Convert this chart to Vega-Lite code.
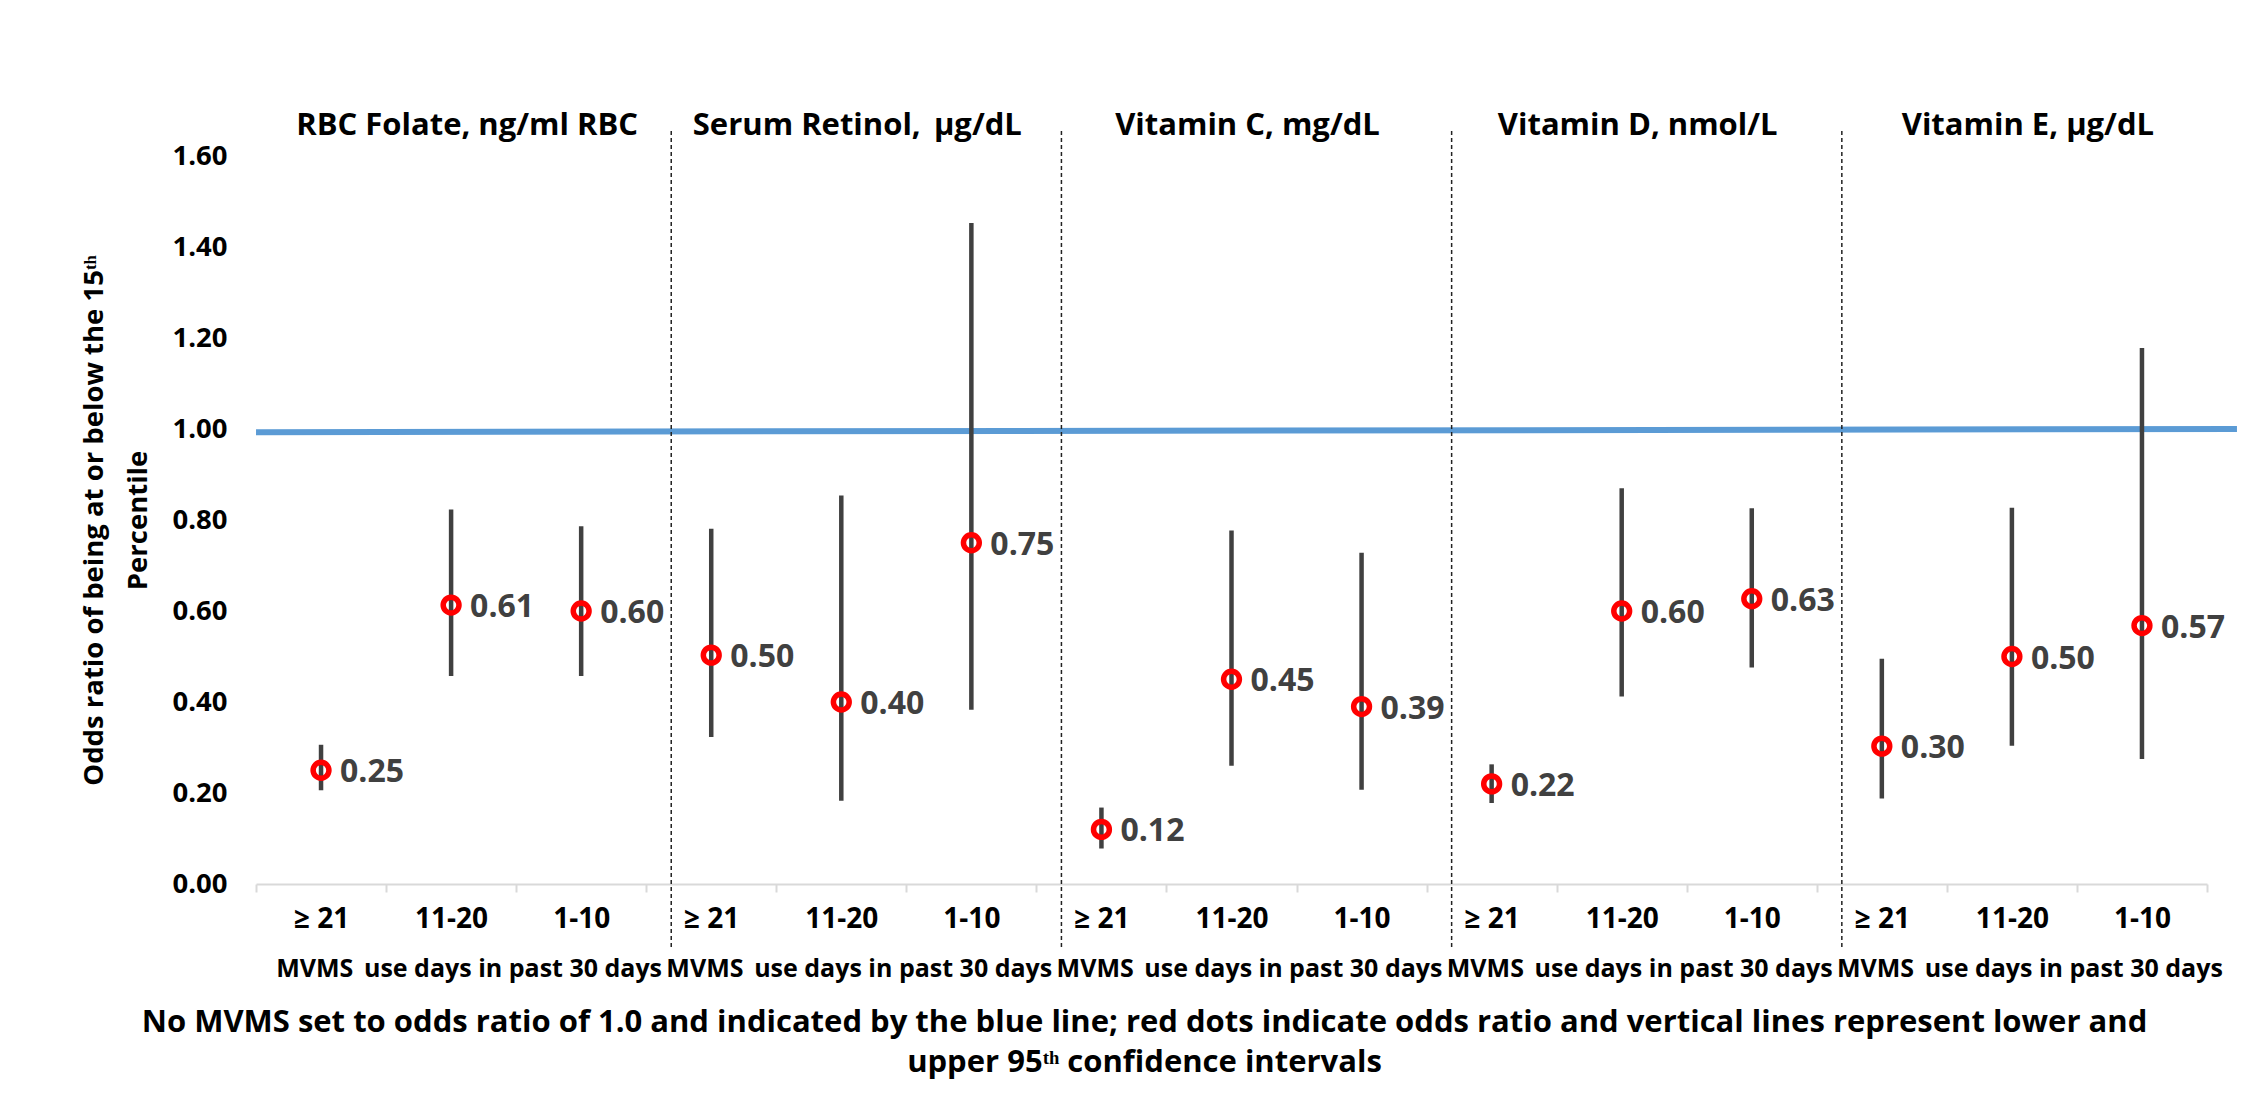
{
  "$schema": "https://vega.github.io/schema/vega-lite/v6.json",
  "width": 1951,
  "height": 728,
  "autosize": {"type": "none"},
  "padding": {"left": 256, "top": 156, "right": 53, "bottom": 221},
  "background": "white",
  "config": {"view": {"stroke": null}, "font": "Open Sans"},
  "title": {
    "text": ["No MVMS set to odds ratio of 1.0 and indicated by the blue line; red dots indicate odds ratio and vertical lines represent lower and", "upper 95ᵗʰ confidence intervals"],
    "orient": "bottom",
    "anchor": "middle",
    "frame": "bounds",
    "font": "Open Sans",
    "fontSize": 31,
    "fontWeight": "bold",
    "color": "black",
    "offset": 26,
    "dx": -16,
    "lineHeight": 40
  },
  "data": {
    "values": [
      {"panel": "RBC Folate, ng/ml RBC", "days": "≥ 21", "key": "P1|≥ 21", "or": 0.25, "lo": 0.206, "hi": 0.306},
      {"panel": "RBC Folate, ng/ml RBC", "days": "11-20", "key": "P1|11-20", "or": 0.613, "lo": 0.457, "hi": 0.823},
      {"panel": "RBC Folate, ng/ml RBC", "days": "1-10", "key": "P1|1-10", "or": 0.60, "lo": 0.457, "hi": 0.786},
      {"panel": "Serum Retinol,\u2009 µg/dL", "days": "≥ 21", "key": "P2|≥ 21", "or": 0.503, "lo": 0.323, "hi": 0.781},
      {"panel": "Serum Retinol,\u2009 µg/dL", "days": "11-20", "key": "P2|11-20", "or": 0.40, "lo": 0.183, "hi": 0.854},
      {"panel": "Serum Retinol,\u2009 µg/dL", "days": "1-10", "key": "P2|1-10", "or": 0.75, "lo": 0.383, "hi": 1.453},
      {"panel": "Vitamin C, mg/dL", "days": "≥ 21", "key": "P3|≥ 21", "or": 0.12, "lo": 0.078, "hi": 0.168},
      {"panel": "Vitamin C, mg/dL", "days": "11-20", "key": "P3|11-20", "or": 0.45, "lo": 0.26, "hi": 0.777},
      {"panel": "Vitamin C, mg/dL", "days": "1-10", "key": "P3|1-10", "or": 0.39, "lo": 0.207, "hi": 0.728},
      {"panel": "Vitamin D, nmol/L", "days": "≥ 21", "key": "P4|≥ 21", "or": 0.22, "lo": 0.178, "hi": 0.263},
      {"panel": "Vitamin D, nmol/L", "days": "11-20", "key": "P4|11-20", "or": 0.60, "lo": 0.412, "hi": 0.870},
      {"panel": "Vitamin D, nmol/L", "days": "1-10", "key": "P4|1-10", "or": 0.627, "lo": 0.476, "hi": 0.826},
      {"panel": "Vitamin E, µg/dL", "days": "≥ 21", "key": "P5|≥ 21", "or": 0.303, "lo": 0.188, "hi": 0.495},
      {"panel": "Vitamin E, µg/dL", "days": "11-20", "key": "P5|11-20", "or": 0.50, "lo": 0.304, "hi": 0.827},
      {"panel": "Vitamin E, µg/dL", "days": "1-10", "key": "P5|1-10", "or": 0.568, "lo": 0.275, "hi": 1.178}
    ]
  },
  "encoding": {
    "x": {
      "field": "key",
      "type": "nominal",
      "title": null,
      "scale": {
        "domain": ["P1|≥ 21", "P1|11-20", "P1|1-10", "P2|≥ 21", "P2|11-20", "P2|1-10", "P3|≥ 21", "P3|11-20", "P3|1-10", "P4|≥ 21", "P4|11-20", "P4|1-10", "P5|≥ 21", "P5|11-20", "P5|1-10"],
        "paddingInner": 0,
        "paddingOuter": 0
      },
      "axis": {
        "labelExpr": "split(datum.value, '|')[1]",
        "labelAngle": 0,
        "labelFont": "Open Sans",
        "labelFontSize": 28,
        "labelFontWeight": "bold",
        "labelColor": "black",
        "labelPadding": 13,
        "tickBand": "extent",
        "tickSize": 8,
        "tickWidth": 2,
        "tickColor": "#d9d9d9",
        "domainColor": "#d9d9d9",
        "domainWidth": 2,
        "grid": false
      }
    }
  },
  "layer": [
    {
      "data": {"values": [{"ref": 1}]},
      "mark": {"type": "rule", "color": "#5B9BD5", "strokeWidth": 6, "xOffset": -65, "x2Offset": 95},
      "encoding": {
        "x": {"datum": "P1|≥ 21"},
        "x2": {"datum": "P5|1-10"},
        "y": {"datum": 0.993, "type": "quantitative"},
        "y2": {"datum": 1.0}
      }
    },
    {
      "transform": [{"filter": "datum.days == '≥ 21' && datum.panel != 'RBC Folate, ng/ml RBC'"}],
      "mark": {"type": "rule", "color": "#222222", "strokeWidth": 1.5, "strokeDash": [4, 3], "xOffset": -40},
      "encoding": {
        "y": {"datum": 1.655, "type": "quantitative"},
        "y2": {"datum": -0.145}
      }
    },
    {
      "mark": {"type": "rule", "color": "#404040", "strokeWidth": 4.5},
      "encoding": {
        "y": {
          "field": "lo",
          "type": "quantitative",
          "scale": {"domain": [0, 1.6], "nice": false, "zero": true},
          "axis": {
            "values": [0, 0.2, 0.4, 0.6, 0.8, 1.0, 1.2, 1.4, 1.6],
            "format": ".2f",
            "labelFont": "Open Sans",
            "labelFontSize": 27.5,
            "labelFontWeight": "bold",
            "labelColor": "black",
            "labelPadding": 29,
            "ticks": false,
            "domain": false,
            "gridColor": "#d9d9d9",
            "gridWidth": 2,
            "title": ["Odds ratio of being at or below the 15ᵗʰ", "Percentile"],
            "titleFont": "Open Sans",
            "titleFontSize": 27.5,
            "titleFontWeight": "bold",
            "titleColor": "black",
            "titlePadding": 19,
            "titleLineHeight": 44
          }
        },
        "y2": {"field": "hi"}
      }
    },
    {
      "mark": {"type": "point", "shape": "circle", "filled": false, "stroke": "#FF0000", "strokeWidth": 5.5, "size": 250, "opacity": 1},
      "encoding": {
        "y": {"field": "or", "type": "quantitative"}
      }
    },
    {
      "mark": {"type": "text", "align": "left", "baseline": "middle", "dx": 19, "dy": 2, "font": "Open Sans", "fontSize": 32, "fontWeight": "bold", "color": "#404040"},
      "encoding": {
        "y": {"field": "or", "type": "quantitative"},
        "text": {"field": "or", "type": "quantitative", "format": ".2f"}
      }
    },
    {
      "transform": [{"filter": "datum.days == '11-20'"}],
      "mark": {"type": "text", "align": "center", "baseline": "alphabetic", "dy": -21, "xOffset": 16, "font": "Open Sans", "fontSize": 31, "fontWeight": "bold", "color": "black"},
      "encoding": {
        "y": {"datum": 1.6, "type": "quantitative"},
        "text": {"field": "panel"}
      }
    },
    {
      "transform": [{"filter": "datum.days == '11-20'"}],
      "mark": {"type": "text", "align": "center", "baseline": "alphabetic", "xOffset": 18, "font": "Open Sans", "fontSize": 25, "fontWeight": "bold", "color": "black", "text": "MVMS\u2009 use days in past 30 days"},
      "encoding": {
        "y": {"datum": -0.204, "type": "quantitative"}
      }
    }
  ]
}
